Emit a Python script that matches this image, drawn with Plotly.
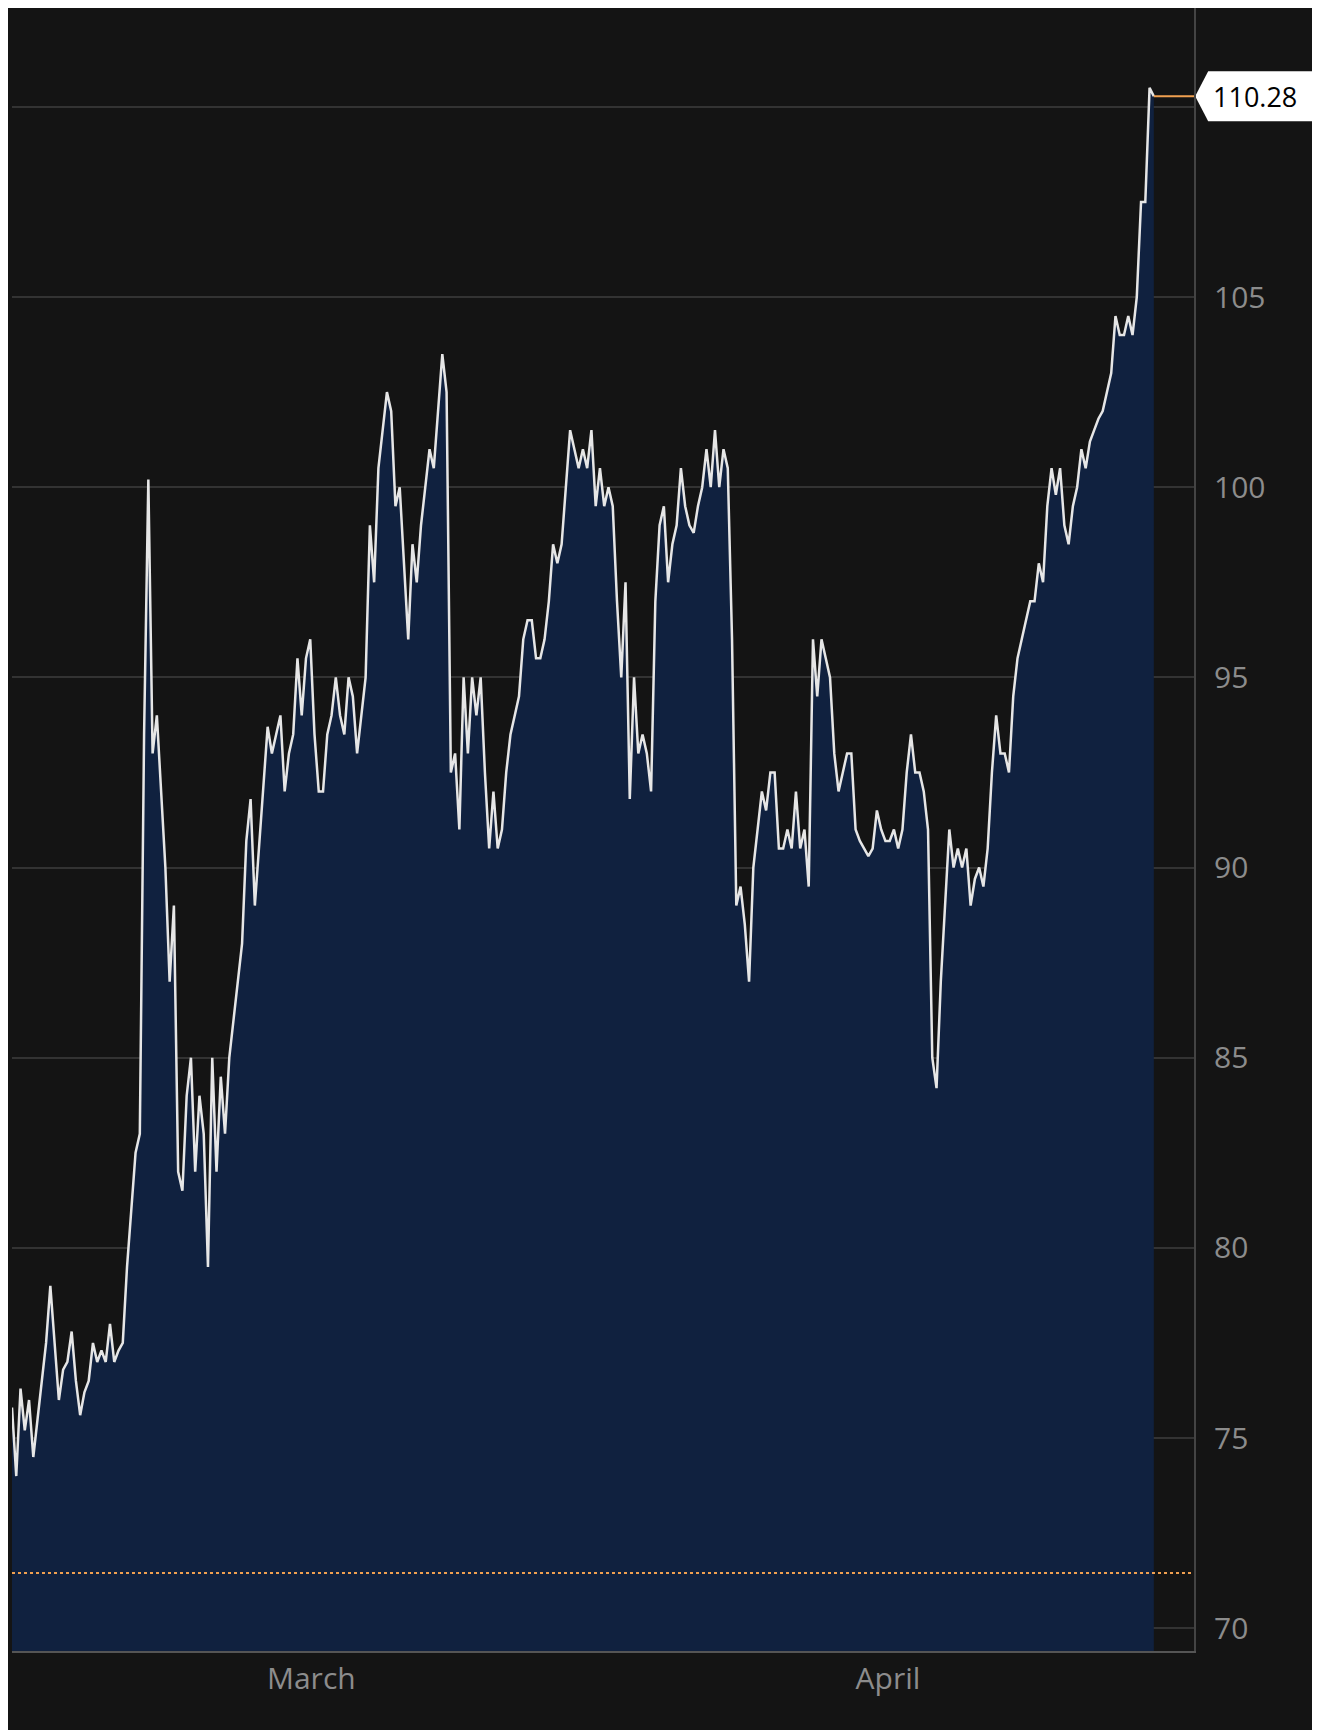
import numpy as np
import pandas as pd
import plotly.graph_objects as go

values = [75.8,74,76.3,75.2,76,74.5,75.5,76.5,77.5,79,77.5,76,76.8,77,77.8,76.5,75.6,76.2,76.5,77.5,
77,77.3,77,78,77,77.3,77.5,79.5,81,82.5,83,93.5,100.2,93,94,92,90,87,89,82,81.5,84,85,82,84,83,79.5,85,82,84.5,
83,85,86,87,88,90.7,91.8,89,90.5,92,93.7,93,93.5,94,92,93,93.5,95.5,94,95.5,96,93.5,92,92,93.5,94,95,94,93.5,95,
94.5,93,94,95,99,97.5,100.5,101.5,102.5,102,99.5,100,98,96,98.5,97.5,99,100,101,100.5,102,103.5,102.5,92.5,93,91,95,93,95,94,
95,92.5,90.5,92,90.5,91,92.5,93.5,94,94.5,96,96.5,96.5,95.5,95.5,96,97,98.5,98,98.5,100,101.5,101,100.5,101,100.5,
101.5,99.5,100.5,99.5,100,99.5,97,95,97.5,91.8,95,93,93.5,93,92,97,99,99.5,97.5,98.5,99,100.5,99.5,99,98.8,99.5,
100,101,100,101.5,100,101,100.5,96,89,89.5,88.5,87,90,91,92,91.5,92.5,92.5,90.5,90.5,91,90.5,92,90.5,91,89.5,
96,94.5,96,95.5,95,93,92,92.5,93,93,91,90.7,90.5,90.3,90.5,91.5,91,90.7,90.7,91,90.5,91,92.5,93.5,92.5,92.5,
92,91,85,84.2,87,89,91,90,90.5,90,90.5,89,89.7,90,89.5,90.5,92.5,94,93,93,92.5,94.5,95.5,96,96.5,97,97,98,
97.5,99.5,100.5,99.8,100.5,99,98.5,99.5,100,101,100.5,101.2,101.5,101.8,102,102.5,103,104.5,104,104,104.5,104,105,107.5,107.5,110.5,110.28]
start = pd.Timestamp("2022-02-12 21:50")
end = pd.Timestamp("2022-04-15 07:00")
axis_end = pd.Timestamp("2022-04-17 10:50")
times = pd.date_range(start, end, periods=len(values))
last_value = 110.28
ref_level = 71.45
tick_vals = [70, 75, 80, 85, 90, 95, 100, 105, 110]
tick_text = ["70", "75", "80", "85", "90", "95", "100", "105", ""]

fig = go.Figure()
fig.add_trace(go.Scatter(x=times, y=values, mode="lines", fill="tozeroy",
                         fillcolor="#10213F", line=dict(color="#e6e6e6", width=2.5)))
fig.add_hline(y=ref_level, line=dict(color="#f0a050", width=2, dash="dot"))
fig.add_shape(type="line", xref="x", yref="y", x0=times[-1], x1=axis_end,
              y0=last_value, y1=last_value, line=dict(color="#f0a050", width=2))
fig.add_shape(type="path", xref="paper", yref="y", layer="below",
              path=f"M 1.001 {last_value} L 1.012 {last_value+0.66} L 1.1 {last_value+0.66} "
                   f"L 1.1 {last_value-0.66} L 1.012 {last_value-0.66} Z",
              fillcolor="white", line=dict(width=0))
fig.add_annotation(xref="paper", yref="y", x=1.014, y=last_value, xanchor="left",
                   text=f"{last_value:.2f}",
                   showarrow=False, font=dict(color="black", size=27, family="Open Sans"))
fig.update_layout(
    width=1320, height=1730, margin=dict(l=4, r=134, t=0, b=87),
    paper_bgcolor="#141414", plot_bgcolor="#141414", showlegend=False,
    font=dict(family="Open Sans", color="#8c8c8c", size=30),
    xaxis=dict(range=[start, axis_end], tickvals=[pd.Timestamp("2022-03-01"), pd.Timestamp("2022-04-01")],
               ticktext=["March", "April"], showgrid=False, showline=True, linecolor="#555",
               linewidth=2, ticks="", zeroline=False),
    yaxis=dict(range=[69.4, 112.6], side="right", tickvals=tick_vals, ticktext=tick_text,
               gridcolor="#333333", gridwidth=2, showline=True, linecolor="#444", linewidth=2,
               ticks="", zeroline=False, ticklabelstandoff=12),
)
fig.write_html("out.html")
